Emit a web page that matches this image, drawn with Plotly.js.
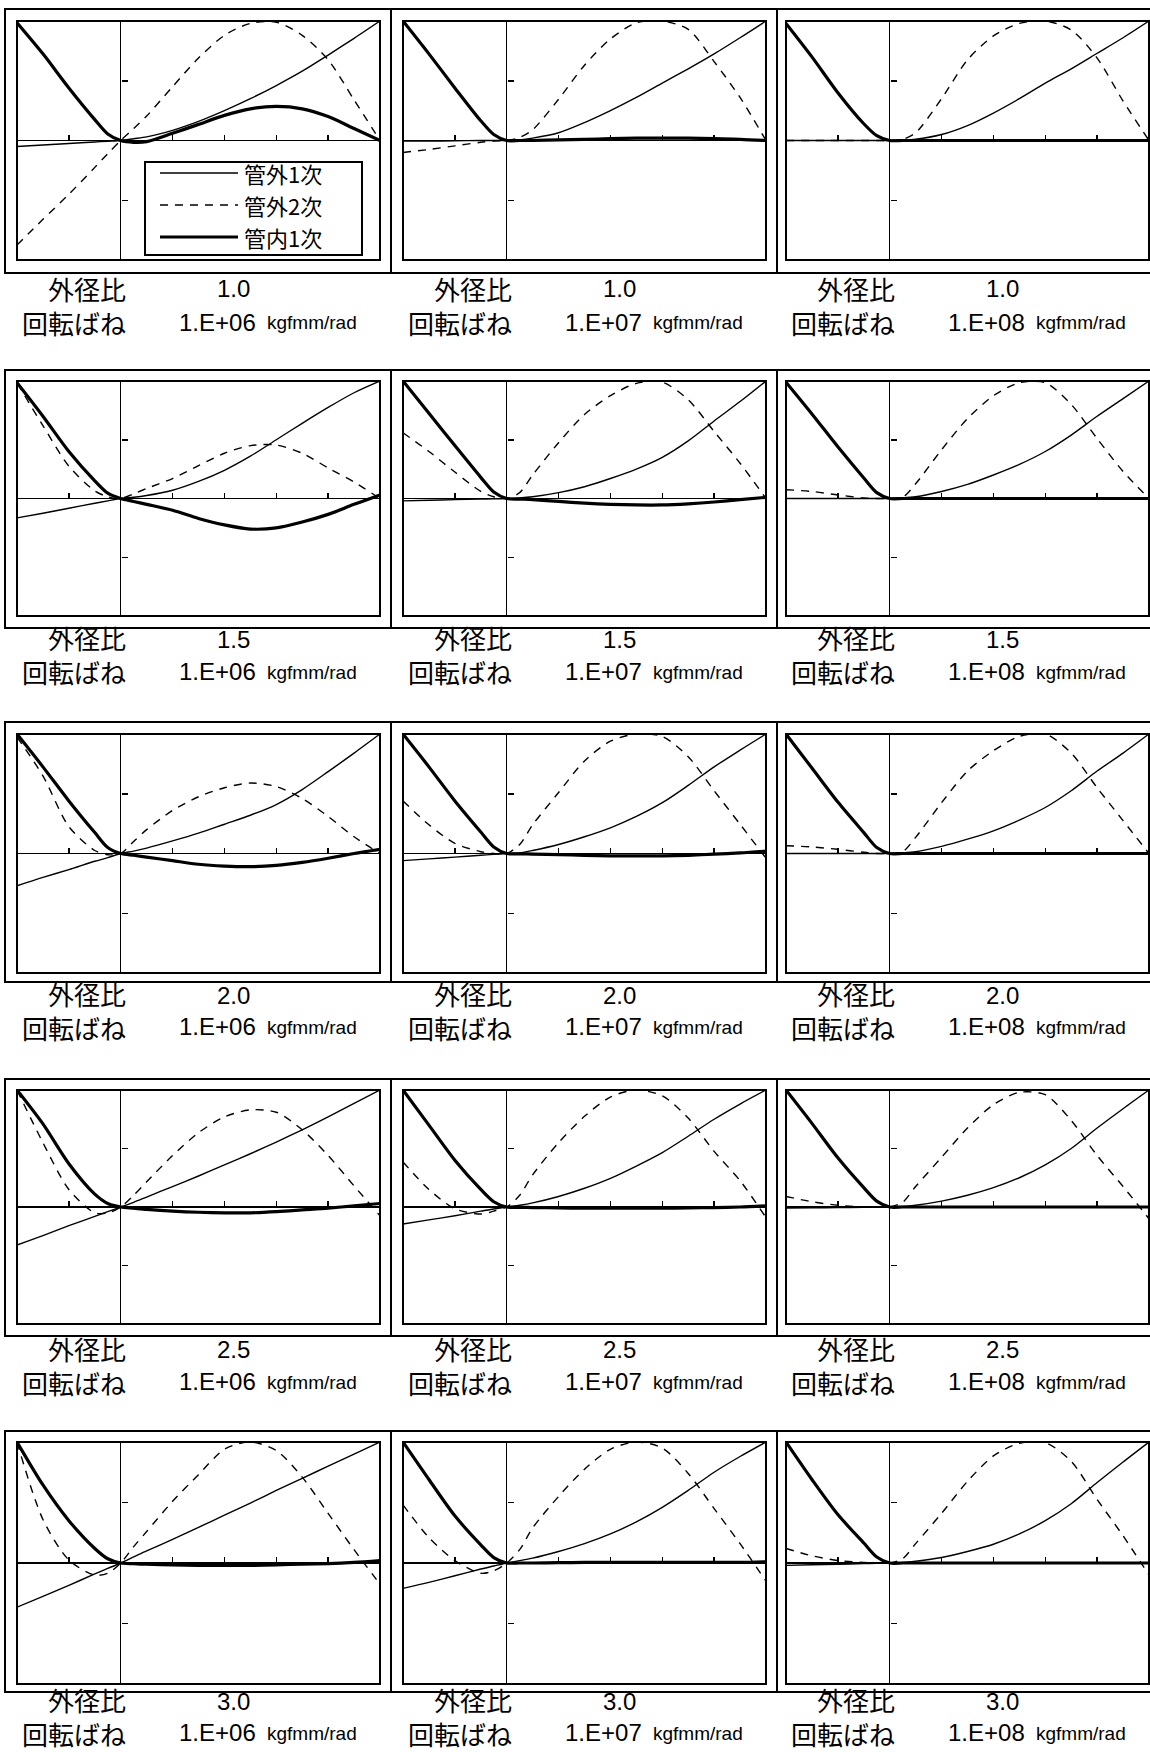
<!DOCTYPE html>
<html><head><meta charset="utf-8">
<script src="https://cdn.plot.ly/plotly-3.0.1.min.js"></script>
<style>html,body{margin:0;padding:0;background:#fff}#chart{width:1150px;height:1752px}</style>
</head><body><div id="chart"></div>
<script>
// position along the pipe (x) shared by every panel
const xPos = [-2,-1.5,-1,-0.5,-0.25,0,0.25,0.5,1,1.5,2,2.5,3,3.5,4,4.5,5];
const ratioLabels = ['1.0','1.5','2.0','2.5','3.0'];      // 外径比 (rows)
const springLabels = ['1.E+06','1.E+07','1.E+08'];        // 回転ばね (columns)
const seriesNames = ['管外1次','管外2次','管内1次'];

// 管外1次 (thin solid), panels row-major: ratio row x spring column
const outer1 = [
  [-0.1,-0.075,-0.05,-0.025,-0.012,0,0.03,0.06,0.17,0.32,0.5,0.7,0.92,1.16,1.43,1.71,2.0],
  [-0.01,-0.01,-0.005,0,0,0,0.01,0.04,0.13,0.3,0.5,0.72,0.96,1.2,1.45,1.72,2.0],
  [0,0,0,0,0,0,0.005,0.02,0.1,0.25,0.46,0.7,0.96,1.2,1.46,1.72,2.0],
  [-0.33,-0.25,-0.165,-0.08,-0.04,0,0.02,0.05,0.14,0.29,0.48,0.72,1.0,1.28,1.55,1.8,2.0],
  [-0.04,-0.03,-0.02,-0.01,-0.005,0,0.01,0.03,0.1,0.2,0.34,0.5,0.7,0.98,1.32,1.65,2.0],
  [0,0,0,0,0,0,0.01,0.03,0.12,0.24,0.4,0.58,0.8,1.08,1.4,1.7,2.0],
  [-0.54,-0.4,-0.27,-0.13,-0.07,0,0.04,0.09,0.21,0.34,0.49,0.64,0.82,1.07,1.37,1.68,2.0],
  [-0.12,-0.09,-0.06,-0.03,-0.015,0,0.01,0.05,0.15,0.28,0.43,0.62,0.85,1.14,1.45,1.73,2.0],
  [0,0,0,0,0,0,0.01,0.03,0.12,0.24,0.38,0.56,0.77,1.05,1.38,1.68,2.0],
  [-0.65,-0.49,-0.32,-0.16,-0.08,0,0.08,0.17,0.35,0.53,0.72,0.91,1.11,1.32,1.54,1.77,2.0],
  [-0.29,-0.22,-0.15,-0.07,-0.035,0,0.03,0.07,0.18,0.32,0.49,0.7,0.93,1.21,1.5,1.76,2.0],
  [-0.02,-0.015,-0.01,-0.005,0,0,0.01,0.03,0.1,0.2,0.33,0.5,0.72,1.0,1.35,1.68,2.0],
  [-0.73,-0.55,-0.37,-0.18,-0.09,0,0.1,0.2,0.39,0.59,0.79,0.99,1.2,1.4,1.6,1.8,2.0],
  [-0.42,-0.32,-0.21,-0.1,-0.05,0,0.04,0.08,0.19,0.32,0.48,0.68,0.92,1.2,1.5,1.76,2.0],
  [-0.04,-0.03,-0.02,-0.01,-0.005,0,0.01,0.03,0.09,0.19,0.31,0.48,0.7,0.98,1.33,1.67,2.0]
];
// 管外2次 (dashed)
const outer2 = [
  [-1.75,-1.32,-0.9,-0.45,-0.22,0,0.2,0.41,0.9,1.38,1.76,1.96,1.98,1.76,1.35,0.68,0.0],
  [-0.2,-0.15,-0.09,-0.03,-0.01,0,0.05,0.18,0.69,1.26,1.7,1.97,2.0,1.86,1.32,0.72,0.0],
  [0,0,0,0,0,0,0.02,0.13,0.7,1.35,1.75,1.96,2.0,1.85,1.38,0.66,0.0],
  [1.97,1.24,0.55,0.13,0.03,0,0.08,0.17,0.34,0.56,0.77,0.9,0.91,0.77,0.52,0.28,0.0],
  [1.12,0.8,0.45,0.12,0.03,0,0.1,0.4,0.95,1.43,1.75,1.96,1.98,1.68,1.14,0.6,0.0],
  [0.15,0.12,0.06,0.01,0,0,0.02,0.25,0.83,1.36,1.75,1.97,1.97,1.6,1.02,0.46,0.0],
  [1.95,1.3,0.45,0.05,-0.02,0,0.2,0.4,0.72,0.95,1.1,1.18,1.12,0.92,0.62,0.28,0.0],
  [0.88,0.48,0.17,0.03,0,0,0.15,0.48,1.02,1.55,1.88,2.0,1.96,1.62,1.05,0.49,-0.08],
  [0.13,0.11,0.07,0.02,0,0,0.03,0.27,0.85,1.38,1.72,1.96,2.0,1.68,1.1,0.55,0.0],
  [2.0,1.1,0.3,-0.1,-0.1,0,0.2,0.43,0.88,1.27,1.54,1.66,1.62,1.32,0.88,0.36,-0.15],
  [0.77,0.3,-0.03,-0.12,-0.07,0,0.2,0.55,1.1,1.55,1.88,2.0,1.9,1.52,0.95,0.45,-0.18],
  [0.18,0.09,0.03,0,0,0,0.08,0.35,0.85,1.35,1.75,1.96,1.92,1.48,0.88,0.35,-0.2],
  [2.0,0.72,0.05,-0.2,-0.17,0,0.27,0.52,1.02,1.46,1.88,2.0,1.86,1.42,0.82,0.22,-0.35],
  [0.96,0.42,0.04,-0.17,-0.13,0,0.22,0.58,1.1,1.55,1.88,2.0,1.9,1.48,0.9,0.32,-0.3],
  [0.24,0.12,0.04,0.01,0,0,0.07,0.32,0.82,1.35,1.77,1.98,1.99,1.68,1.05,0.45,-0.2]
];
// 管内1次 (thick solid)
const inner1 = [
  [1.97,1.45,0.88,0.35,0.11,0,-0.03,-0.02,0.12,0.27,0.42,0.53,0.57,0.53,0.4,0.2,0.0],
  [2.0,1.45,0.88,0.33,0.1,0,0,0,0.01,0.02,0.03,0.04,0.04,0.04,0.03,0.02,0.0],
  [1.96,1.4,0.8,0.28,0.08,0,0,0,0,0,0,0,0,0,0,0,0],
  [1.97,1.4,0.8,0.3,0.09,0,-0.05,-0.1,-0.2,-0.34,-0.45,-0.52,-0.5,-0.4,-0.27,-0.1,0.06],
  [2.0,1.45,0.9,0.36,0.11,0,-0.01,-0.02,-0.05,-0.08,-0.1,-0.11,-0.11,-0.09,-0.06,-0.02,0.02],
  [1.98,1.44,0.88,0.35,0.1,0,0,0,0,0,0,0,0,0,0,0,0],
  [2.0,1.45,0.88,0.35,0.1,0,-0.03,-0.06,-0.12,-0.18,-0.21,-0.22,-0.2,-0.15,-0.08,0.0,0.07],
  [2.0,1.45,0.88,0.36,0.11,0,-0.005,-0.01,-0.02,-0.03,-0.04,-0.04,-0.04,-0.03,-0.01,0.01,0.04],
  [2.0,1.43,0.86,0.35,0.1,0,0,0,0,0,0,0,0,0,0,0,0],
  [2.0,1.42,0.74,0.22,0.06,0,-0.02,-0.04,-0.07,-0.09,-0.1,-0.1,-0.08,-0.05,-0.02,0.02,0.06],
  [2.0,1.4,0.8,0.3,0.09,0,-0.005,-0.01,-0.015,-0.02,-0.02,-0.02,-0.02,-0.015,-0.01,0.0,0.02],
  [2.0,1.43,0.84,0.33,0.1,0,0,0,0,0,0,0,0,0,0,0,0],
  [2.0,1.29,0.7,0.24,0.07,0,-0.01,-0.02,-0.03,-0.04,-0.04,-0.04,-0.03,-0.02,-0.01,0.01,0.04],
  [2.0,1.38,0.78,0.3,0.09,0,0,0,0.005,0.01,0.01,0.01,0.01,0.01,0.01,0.01,0.02],
  [2.0,1.38,0.8,0.33,0.1,0,0,0,0,0,0,0,0,0,0,0,0]
];

// ---------- layout geometry (pixels) ----------
const W = 1150, H = 1752;
const colLeft = [17, 403, 786], plotW = 363;
const rowTop = [21, 381, 734, 1090, 1442], rowH = [239, 235, 239, 234, 242];
const frameRows = [[9,273],[370,628],[722,982],[1079,1336],[1431,1692]];
const frameCols = [[5,391],[391,777],[777,1165]];
const labelY1 = [288, 639, 995, 1349, 1701], labelY2 = [322, 671, 1026, 1381, 1732];
const px = v => v / W, py = v => 1 - v / H;

const CJK = '"Noto Sans CJK JP", sans-serif';
const LAT = '"Liberation Sans", Arial, sans-serif';

const styles = [
  {color:'#000', width:1.4, dash:'solid'},
  {color:'#000', width:1.4, dash:'8px,7px'},
  {color:'#000', width:3.2, dash:'solid'}
];
const seriesData = [outer1, outer2, inner1];

const traces = [];
const layout = {
  width: W, height: H, margin:{l:0,r:0,t:0,b:0},
  paper_bgcolor:'#fff', plot_bgcolor:'#fff',
  showlegend: false,
  shapes: [], annotations: []
};

for (let r = 0; r < 5; r++) {
  for (let c = 0; c < 3; c++) {
    const k = r * 3 + c, n = k + 1;
    const xa = n === 1 ? 'x' : 'x' + n, ya = n === 1 ? 'y' : 'y' + n;
    const L = colLeft[c];
    const axCommon = {
      showgrid:false, zeroline:true, zerolinecolor:'#000', zerolinewidth:1.5,
      showline:false, ticks:'inside', ticklen:6, tickwidth:1.5, tickcolor:'#000',
      showticklabels:false, fixedrange:true
    };
    layout['xaxis' + (n === 1 ? '' : n)] = Object.assign({}, axCommon, {
      domain:[px(L), px(L + plotW)], range:[-2, 5],
      anchor:'free', position: py(rowTop[r] + rowH[r] / 2), side:'bottom',
      tickvals:[-1, 1, 2, 3, 4]
    });
    layout['yaxis' + (n === 1 ? '' : n)] = Object.assign({}, axCommon, {
      domain:[py(rowTop[r] + rowH[r]), py(rowTop[r])], range:[-2, 2],
      anchor:'free', position: px(L + plotW * 2 / 7), side:'left',
      tickvals:[-1, 1]
    });
    seriesData.forEach((arr, s) => {
      traces.push({
        type:'scatter', mode:'lines', x:xPos, y:arr[k],
        xaxis:xa, yaxis:ya, name:seriesNames[s], legendgroup:seriesNames[s],
        showlegend:false,
        line:Object.assign({shape:'spline', smoothing:0.8}, styles[s]),
        hoverinfo:'skip'
      });
    });
    // plot frame
    layout.shapes.push({type:'rect', xref:xa + ' domain', yref:ya + ' domain',
      x0:0, x1:1, y0:0, y1:1, line:{color:'#000', width:2}});
    // panel outer frame
    layout.shapes.push({type:'rect', xref:'paper', yref:'paper',
      x0:px(frameCols[c][0]), x1:px(frameCols[c][1]),
      y0:py(frameRows[r][1]), y1:py(frameRows[r][0]),
      line:{color:'#000', width:2}, layer:'below'});
    // labels
    const A = layout.annotations;
    A.push({xref:'paper', yref:'paper', x:px(L + 111), y:py((labelY1[r] + labelY2[r]) / 2),
      xanchor:'right', yanchor:'middle', align:'right',
      text:'外径比<br>回転ばね', showarrow:false, font:{family:CJK, size:26, color:'#000'}});
    A.push({xref:'paper', yref:'paper', x:px(L + 216), y:py(labelY1[r]), xanchor:'center', yanchor:'middle',
      text:ratioLabels[r], showarrow:false, font:{family:LAT, size:24, color:'#000'}});
    A.push({xref:'paper', yref:'paper', x:px(L + 160), y:py(labelY2[r]), xanchor:'left', yanchor:'middle',
      text:springLabels[c], showarrow:false, font:{family:LAT, size:24, color:'#000'}});
    A.push({xref:'paper', yref:'paper', x:px(L + 248), y:py(labelY2[r] + 1), xanchor:'left', yanchor:'middle',
      text:'kgfmm/rad', showarrow:false, font:{family:LAT, size:19, color:'#000'}});
  }
}

// legend drawn in the first panel (box, line samples, names)
const legBox = {x0:145, y0:162, x1:362, y1:255};
const legRowY = [173, 205, 237];
layout.shapes.push({type:'rect', xref:'paper', yref:'paper',
  x0:px(legBox.x0), x1:px(legBox.x1), y0:py(legBox.y1), y1:py(legBox.y0),
  fillcolor:'#fff', line:{color:'#000', width:2}, layer:'above'});
seriesNames.forEach((nm, s) => {
  layout.shapes.push({type:'line', xref:'paper', yref:'paper',
    x0:px(160), x1:px(238), y0:py(legRowY[s]), y1:py(legRowY[s]),
    line:{color:styles[s].color, width:styles[s].width, dash:styles[s].dash}, layer:'above'});
  layout.annotations.push({xref:'paper', yref:'paper', x:px(243), y:py(legRowY[s]),
    xanchor:'left', yanchor:'middle', showarrow:false, borderpad:0,
    text:nm, font:{family:CJK, size:22, color:'#000'}});
});

Plotly.newPlot('chart', traces, layout, {displayModeBar:false, staticPlot:true});
</script>
</body></html>
